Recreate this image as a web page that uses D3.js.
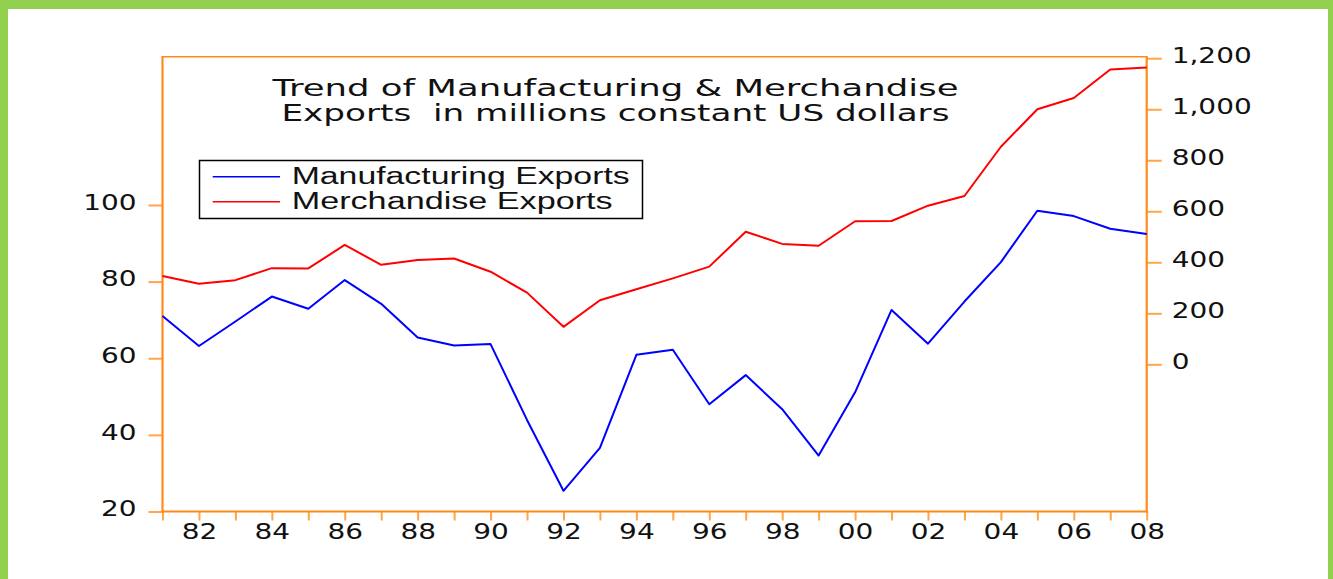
<!DOCTYPE html>
<html>
<head>
<meta charset="utf-8">
<script src="https://cdn.jsdelivr.net/npm/d3@7"></script>
<style>
  html, body { margin: 0; padding: 0; background: #fff; }
  svg text { font-family: "DejaVu Sans", Verdana, sans-serif; fill: #111; }
</style>
</head>
<body>
<div id="chart"></div>
<script>
// values
var years = [1981, 1982, 1983, 1984, 1985, 1986, 1987, 1988, 1989, 1990, 1991, 1992, 1993, 1994,
  1995, 1996, 1997, 1998, 1999, 2000, 2001, 2002, 2003, 2004, 2005, 2006, 2007, 2008];
var manufacturing = [71.0, 63.2, 69.6, 76.1, 72.9, 80.4, 74.2, 65.4, 63.3, 63.7, 43.9, 25.4, 36.6, 60.9,
  62.2, 48.0, 55.6, 46.7, 34.6, 51.1, 72.6, 63.8, 74.8, 85.1, 98.5, 97.1, 93.8, 92.4];
var merchandise = [346, 316, 330, 377, 376, 468, 390, 409, 415, 363, 281, 147, 251, 294,
  337, 383, 520, 472, 465, 561, 562, 622, 660, 853, 1000, 1044, 1156, 1164];
var leftTicks = [20, 40, 60, 80, 100];
var rightTicks = [0, 200, 400, 600, 800, 1000, 1200];
var titleLines = ["Trend of Manufacturing & Merchandise", "Exports  in millions constant US dollars"];
var seriesNames = ["Manufacturing Exports", "Merchandise Exports"];

var W = 1333, H = 579;
var orange = "#ff8a1e", tickOrange = "#ffa54a", green = "#92d050";
var stretch = 1.3;

var svg = d3.select("#chart").append("svg").attr("width", W).attr("height", H);

// green frame (left, top, right)
svg.append("rect").attr("x", 0).attr("y", 0).attr("width", W).attr("height", 9).attr("fill", green);
svg.append("rect").attr("x", 0).attr("y", 0).attr("width", 8).attr("height", H).attr("fill", green);
svg.append("rect").attr("x", 1328).attr("y", 0).attr("width", 5).attr("height", H).attr("fill", green);

var x = d3.scaleLinear().domain([1981, 2008]).range([162.5, 1146.7]);
var yL = d3.scaleLinear().domain([20, 138.7]).range([511.5, 56.7]);
var yR = d3.scaleLinear().domain([-577, 1206]).range([511.5, 56.7]);

function stretchText(sel) {
  sel.each(function () {
    var len = this.getComputedTextLength();
    if (len > 0) {
      d3.select(this).attr("textLength", len * stretch).attr("lengthAdjust", "spacingAndGlyphs");
    }
  });
}

// axes
var gL = svg.append("g").attr("transform", "translate(162.5,0)")
  .call(d3.axisLeft(yL).tickValues(leftTicks).tickSize(14).tickSizeOuter(0).tickPadding(12));
var gR = svg.append("g").attr("transform", "translate(1146.7,0)")
  .call(d3.axisRight(yR).tickValues(rightTicks).tickFormat(d3.format(",")).tickSize(15).tickSizeOuter(0).tickPadding(10));
var gB = svg.append("g").attr("transform", "translate(0,511.5)")
  .call(d3.axisBottom(x).tickValues(years).tickSize(9).tickSizeOuter(0).tickPadding(3)
    .tickFormat(function (d) { return d % 2 === 0 ? String(d).slice(2) : ""; }));

[gL, gR, gB].forEach(function (g) {
  g.select(".domain").remove();
  g.selectAll(".tick line").attr("stroke", tickOrange).attr("stroke-width", 2);
  g.selectAll(".tick text").attr("font-size", 21.5).attr("font-family", "DejaVu Sans").call(stretchText);
});
gL.selectAll(".tick text").attr("dy", "0.2em");
gR.selectAll(".tick text").attr("dy", "0.2em");

// plot frame
svg.append("line").attr("x1", 162.5).attr("x2", 1146.7).attr("y1", 56.7).attr("y2", 56.7)
  .attr("stroke", orange).attr("stroke-width", 1.5);
svg.append("line").attr("x1", 162.5).attr("x2", 162.5).attr("y1", 56).attr("y2", 512.5)
  .attr("stroke", orange).attr("stroke-width", 2.2);
svg.append("line").attr("x1", 1146.7).attr("x2", 1146.7).attr("y1", 56).attr("y2", 512.5)
  .attr("stroke", orange).attr("stroke-width", 2.2);
svg.append("line").attr("x1", 161.5).attr("x2", 1147.8).attr("y1", 511.5).attr("y2", 511.5)
  .attr("stroke", orange).attr("stroke-width", 2.2);

// series
var lineL = d3.line().x(function (d, i) { return x(years[i]); }).y(function (d) { return yL(d); });
var lineR = d3.line().x(function (d, i) { return x(years[i]); }).y(function (d) { return yR(d); });

svg.append("path").datum(merchandise).attr("d", lineR)
  .attr("fill", "none").attr("stroke", "#ff0000").attr("stroke-width", 2).attr("stroke-linejoin", "round");
svg.append("path").datum(manufacturing).attr("d", lineL)
  .attr("fill", "none").attr("stroke", "#0000ff").attr("stroke-width", 2).attr("stroke-linejoin", "round");

// title
var titleWidths = [686, 668];
var titleBase = [96, 121];
titleLines.forEach(function (t, i) {
  svg.append("text").attr("x", 615.5).attr("y", titleBase[i]).attr("text-anchor", "middle")
    .attr("font-size", 23).attr("textLength", titleWidths[i]).attr("lengthAdjust", "spacingAndGlyphs")
    .style("white-space", "pre").text(t);
});

// legend
svg.append("rect").attr("x", 199.5).attr("y", 160.5).attr("width", 443).attr("height", 58)
  .attr("fill", "#fff").attr("stroke", "#000").attr("stroke-width", 1.5);
var legColors = ["#0000ff", "#ff0000"];
var legY = [176.7, 201.7];
var legWidths = [338, 321];
seriesNames.forEach(function (n, i) {
  svg.append("line").attr("x1", 212.7).attr("x2", 280).attr("y1", legY[i]).attr("y2", legY[i])
    .attr("stroke", legColors[i]).attr("stroke-width", 1.5);
  svg.append("text").attr("x", 291.7).attr("y", legY[i] + 7.5).attr("font-size", 23)
    .style("font-family", "'Liberation Sans', Arial, sans-serif")
    .attr("textLength", legWidths[i]).attr("lengthAdjust", "spacingAndGlyphs").text(n);
});
</script>
</body>
</html>
